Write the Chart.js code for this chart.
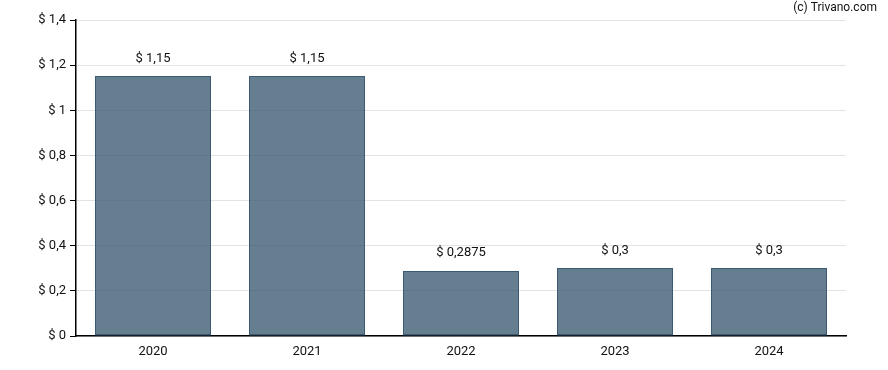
<!DOCTYPE html>
<html>
<head>
<meta charset="utf-8">
<script src="https://cdn.jsdelivr.net/npm/chart.js@4/dist/chart.umd.min.js"></script>
<style>
  html, body { margin:0; padding:0; background:#fff; }
  #wrap { width:888px; height:370px; position:relative; }
</style>
</head>
<body>
<div id="wrap"><canvas id="c"></canvas></div>
<script>
const years = ["2020", "2021", "2022", "2023", "2024"];
const dividends = [1.15, 1.15, 0.2875, 0.3, 0.3];
const barLabels = ["$ 1,15", "$ 1,15", "$ 0,2875", "$ 0,3", "$ 0,3"];

const fmt = v => "$ " + String(+v.toFixed(2)).replace(".", ",");

const valueLabels = {
  id: "valueLabels",
  afterDatasetsDraw(chart) {
    const ctx = chart.ctx;
    const meta = chart.getDatasetMeta(0);
    ctx.save();
    ctx.font = "13px Roboto";
    ctx.fillStyle = "#111";
    ctx.textAlign = "center";
    ctx.textBaseline = "middle";
    meta.data.forEach((bar, i) => {
      // outline of bar, drawn on top so it stays dark
      ctx.strokeStyle = "#3c5b72";
      ctx.lineWidth = 1;
      const x0 = Math.round(bar.x - bar.width / 2) + 0.5;
      const y0 = Math.round(bar.y) + 0.5;
      ctx.strokeRect(x0, y0, Math.round(bar.width) - 1, Math.round(bar.base - bar.y) - 1);
      ctx.fillText(barLabels[i], bar.x, bar.y - 18);
    });
    ctx.font = "12px Roboto";
    ctx.textAlign = "right";
    ctx.fillText("(c) Trivano.com", 877, 8);
    ctx.restore();
  }
};

new Chart(document.getElementById("c"), {
  type: "bar",
  data: {
    labels: years,
    datasets: [{
      data: dividends,
      backgroundColor: "rgba(55,88,112,0.77)",
      borderWidth: 0,
      categoryPercentage: 1,
      barPercentage: 0.75
    }]
  },
  options: {
    responsive: true,
    maintainAspectRatio: false,
    animation: false,
    layout: { padding: { top: 20, right: 42, left: 0, bottom: 0 } },
    plugins: { legend: { display: false }, tooltip: { enabled: false } },
    scales: {
      x: {
        grid: { display: false, drawTicks: true, tickLength: 6 },
        border: { color: "#000", width: 1.5 },
        ticks: { color: "#111", font: { family: "Roboto", size: 13 }, padding: 2 },
        afterFit: axis => { axis.height = 34; }
      },
      y: {
        min: 0,
        max: 1.4,
        ticks: {
          stepSize: 0.2,
          color: "#111",
          font: { family: "Roboto", size: 13 },
          padding: 4,
          callback: v => fmt(v)
        },
        grid: { color: "#e3e3e3", tickColor: "#000", tickLength: 6 },
        border: { color: "#000", width: 1.5 },
        afterFit: axis => { axis.width = 76; }
      }
    }
  },
  plugins: [valueLabels]
});
</script>
</body>
</html>
